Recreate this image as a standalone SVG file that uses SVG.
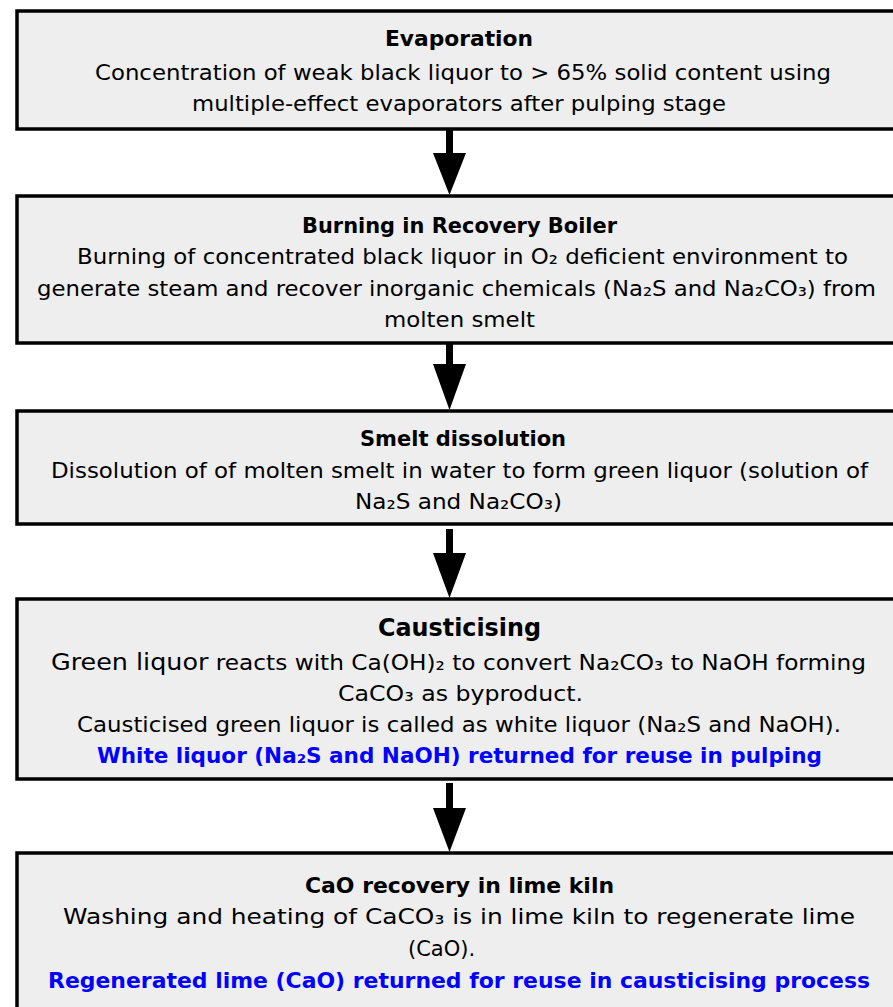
<svg xmlns="http://www.w3.org/2000/svg" width="893" height="1007" viewBox="0 0 893 1007">
  <style>
    .box { fill: #eeeeee; stroke: #000000; stroke-width: 3.5; }
    .t { font-family: "DejaVu Sans", "Liberation Sans", sans-serif; font-size: 21px; fill: #000000; }
    .h { font-family: "DejaVu Sans", "Liberation Sans", sans-serif; font-size: 21px; font-weight: bold; fill: #000000; }
    .hl { font-family: "DejaVu Sans", "Liberation Sans", sans-serif; font-size: 25px; font-weight: bold; fill: #000000; }
    .note { font-family: "DejaVu Sans", "Liberation Sans", sans-serif; font-size: 21px; font-weight: bold; fill: #0000ff; }
    .arrow { fill: #000000; }
  </style>
  <rect width="893" height="1007" fill="#ffffff"/>

  <!-- down arrows: 7px shaft, 33px wide head, tip touching the next box -->
  <g id="connectors">
    <path class="arrow" d="M 446 129 L 453 129 L 453 153 L 466 153 L 449.5 195 L 433 153 L 446 153 Z"/>
    <path class="arrow" d="M 446 342 L 453 342 L 453 364 L 466 364 L 449.5 410 L 433 364 L 446 364 Z"/>
    <path class="arrow" d="M 446 529 L 453 529 L 453 553 L 466 553 L 449.5 598 L 433 553 L 446 553 Z"/>
    <path class="arrow" d="M 446 783 L 453 783 L 453 808 L 466 808 L 449.5 852 L 433 808 L 446 808 Z"/>
  </g>

  <g id="evaporation">
    <rect class="box" x="17" y="11" width="890" height="118"/>
    <text class="h" x="385" y="46" textLength="148" lengthAdjust="spacingAndGlyphs">Evaporation</text>
    <text class="t" x="95" y="80" textLength="736" lengthAdjust="spacingAndGlyphs">Concentration of weak black liquor to &gt; 65% solid content using</text>
    <text class="t" x="192" y="111" textLength="534" lengthAdjust="spacingAndGlyphs">multiple-effect evaporators after pulping stage</text>
  </g>

  <g id="recovery-boiler">
    <rect class="box" x="17" y="196" width="890" height="147"/>
    <text class="h" x="302" y="233" textLength="315" lengthAdjust="spacingAndGlyphs">Burning in Recovery Boiler</text>
    <text class="t" x="77" y="264" textLength="771" lengthAdjust="spacingAndGlyphs">Burning of concentrated black liquor in O₂ deficient environment to</text>
    <text class="t" x="37" y="296" textLength="839" lengthAdjust="spacingAndGlyphs">generate steam and recover inorganic chemicals (Na₂S and Na₂CO₃) from</text>
    <text class="t" x="384" y="327" textLength="151" lengthAdjust="spacingAndGlyphs">molten smelt</text>
  </g>

  <g id="smelt-dissolution">
    <rect class="box" x="17" y="411" width="890" height="113"/>
    <text class="h" x="360" y="446" textLength="206" lengthAdjust="spacingAndGlyphs">Smelt dissolution</text>
    <text class="t" x="51" y="478" textLength="817" lengthAdjust="spacingAndGlyphs">Dissolution of of molten smelt in water to form green liquor (solution of</text>
    <text class="t" x="355" y="509" textLength="207" lengthAdjust="spacingAndGlyphs">Na₂S and Na₂CO₃)</text>
  </g>

  <g id="causticising">
    <rect class="box" x="17" y="599" width="890" height="180"/>
    <text class="hl" x="378" y="636" textLength="163" lengthAdjust="spacingAndGlyphs">Causticising</text>
    <text class="t" x="51" y="670" textLength="815" lengthAdjust="spacingAndGlyphs"><tspan font-size="23">Green liquor</tspan> reacts with Ca(OH)₂ to convert Na₂CO₃ to NaOH forming</text>
    <text class="t" x="338" y="701" textLength="245" lengthAdjust="spacingAndGlyphs">CaCO₃ as byproduct.</text>
    <text class="t" x="77" y="732" textLength="764" lengthAdjust="spacingAndGlyphs">Causticised green liquor is called as white liquor (Na₂S and NaOH).</text>
    <text class="note" x="97" y="763" textLength="725" lengthAdjust="spacingAndGlyphs">White liquor (Na₂S and NaOH) returned for reuse in pulping</text>
  </g>

  <g id="lime-kiln">
    <rect class="box" x="17" y="853" width="890" height="170"/>
    <text class="h" x="305" y="893" textLength="309" lengthAdjust="spacingAndGlyphs">CaO recovery in lime kiln</text>
    <text class="t" x="63" y="924" textLength="792" lengthAdjust="spacingAndGlyphs">Washing and heating of CaCO₃ is in lime kiln to regenerate lime</text>
    <text class="t" x="441.5" y="956" text-anchor="middle">(CaO).</text>
    <text class="note" x="48" y="988" textLength="822" lengthAdjust="spacingAndGlyphs">Regenerated lime (CaO) returned for reuse in causticising process</text>
  </g>
</svg>
